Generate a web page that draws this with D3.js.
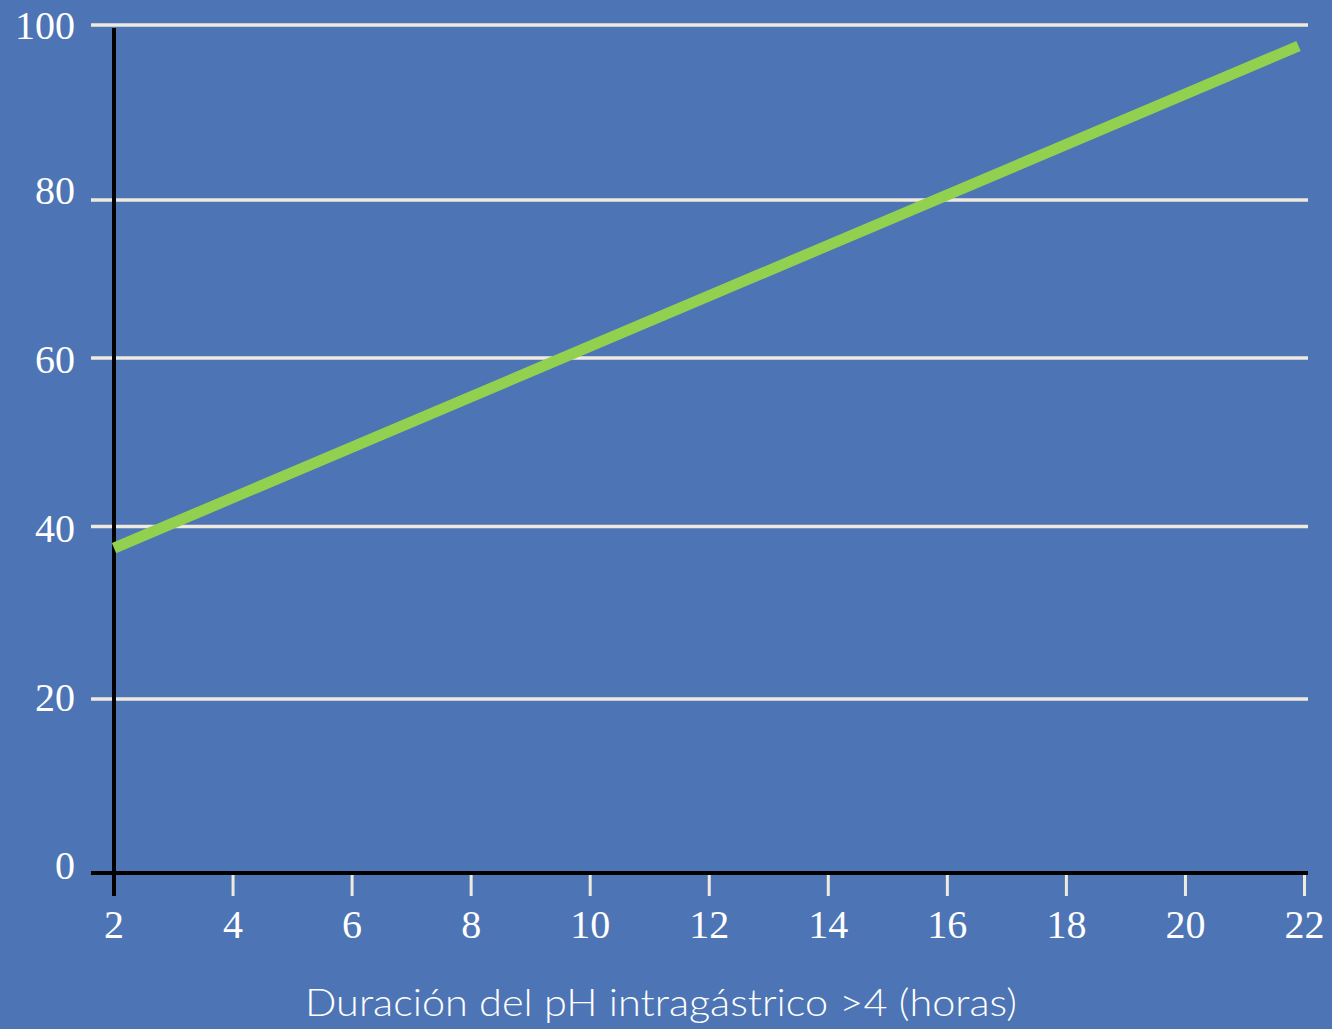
<!DOCTYPE html>
<html>
  <head>
    <meta charset="utf-8">
    <title>pH intragástrico</title>
    <script src="https://d3js.org/d3.v7.min.js"></script>
    <style>
      body { margin: 0; background: #4d74b4; }
    </style>
  </head>
  <body>
    <div id="chart"></div>
    <script>
      // data
      const xTicks = [2, 4, 6, 8, 10, 12, 14, 16, 18, 20, 22]
      const yTicks = [0, 20, 40, 60, 80, 100]
      const lineX = [2, 21.9]
      const lineY = [37.5, 97.6]
      const xTitle = "Duración del pH intragástrico >4 (horas)"

      const width = 1332, height = 1029
      const bg = "#4d74b4", grid = "#eeeae0", green = "#92d050"

      const svg = d3.select("#chart")
        .append("svg")
          .attr("width", width)
          .attr("height", height)

      svg.append("rect")
        .attr("width", width)
        .attr("height", height)
        .attr("fill", bg)

      const x = d3.scaleLinear().domain([2, 22]).range([114, 1304.5])
      // the gridlines in the original are not evenly spaced, so the scale is piecewise
      const y = d3.scaleLinear().domain(yTicks).range([873, 699, 526.5, 358, 200, 25])

      // horizontal gridlines
      svg.selectAll("line.grid")
        .data(yTicks.filter(d => d > 0))
        .join("line")
          .attr("class", "grid")
          .attr("x1", 91)
          .attr("x2", 1308)
          .attr("y1", d => y(d))
          .attr("y2", d => y(d))
          .attr("stroke", grid)
          .attr("stroke-width", 3.5)

      // y tick labels
      const yLabShift = {0: -8, 20: -2, 40: 1, 60: 1, 80: -10, 100: 0}
      svg.selectAll("text.ylab")
        .data(yTicks)
        .join("text")
          .attr("class", "ylab")
          .attr("x", 75)
          .attr("y", d => y(d) + yLabShift[d])
          .attr("dy", "0.35em")
          .attr("text-anchor", "end")
          .attr("fill", "#fff")
          .style("font", "40px 'Liberation Serif', serif")
          .text(d => d)

      // x ticks (white) below the axis
      svg.selectAll("line.xtick")
        .data(xTicks.filter(d => d > 2))
        .join("line")
          .attr("class", "xtick")
          .attr("x1", d => x(d))
          .attr("x2", d => x(d))
          .attr("y1", y(0))
          .attr("y2", y(0) + 23)
          .attr("stroke", grid)
          .attr("stroke-width", 3)

      svg.selectAll("text.xlab")
        .data(xTicks)
        .join("text")
          .attr("class", "xlab")
          .attr("x", d => x(d))
          .attr("y", 938)
          .attr("text-anchor", "middle")
          .attr("fill", "#fff")
          .style("font", "40px 'Liberation Serif', serif")
          .text(d => d)

      // black axes
      svg.append("line")
        .attr("x1", 91).attr("x2", 1308)
        .attr("y1", y(0)).attr("y2", y(0))
        .attr("stroke", "#000")
        .attr("stroke-width", 4)

      svg.append("line")
        .attr("x1", x(2)).attr("x2", x(2))
        .attr("y1", 28).attr("y2", y(0) + 23)
        .attr("stroke", "#000")
        .attr("stroke-width", 4)

      // the green line
      const pts = lineX.map((d, i) => [d, lineY[i]])
      svg.append("path")
        .datum(pts)
        .attr("d", d3.line().x(d => x(d[0])).y(d => y(d[1])))
        .attr("fill", "none")
        .attr("stroke", green)
        .attr("stroke-width", 11)

      svg.append("text")
        .attr("x", 661)
        .attr("y", 1016)
        .attr("text-anchor", "middle")
        .attr("fill", "#fff")
        .attr("textLength", 712)
        .attr("lengthAdjust", "spacingAndGlyphs")
        .style("font", "300 38px Lato, 'Open Sans', sans-serif")
        .text(xTitle)
    </script>
  </body>
</html>
